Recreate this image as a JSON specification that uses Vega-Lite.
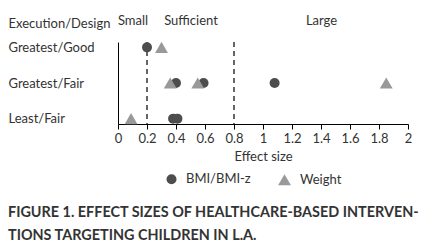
{
  "$schema": "https://vega.github.io/schema/vega-lite/v6.json",
  "width": 290,
  "height": 82,
  "autosize": "none",
  "padding": {"left": 118, "top": 42, "right": 18, "bottom": 121},
  "config": {
    "font": "Lato",
    "view": {"stroke": null},
    "axis": {
      "grid": false,
      "labelColor": "#333",
      "titleColor": "#333",
      "labelFont": "Lato",
      "titleFont": "Lato",
      "labelFontSize": 13,
      "titleFontSize": 13,
      "titleFontWeight": "normal",
      "domainColor": "#000",
      "tickColor": "#000"
    }
  },
  "title": {
    "text": ["FIGURE 1. EFFECT SIZES OF HEALTHCARE-BASED INTERVEN-", "TIONS TARGETING CHILDREN IN L.A."],
    "orient": "bottom",
    "anchor": "start",
    "frame": "bounds",
    "font": "Lato",
    "fontSize": 14.4,
    "fontWeight": "bold",
    "color": "#333",
    "lineHeight": 23,
    "offset": 19
  },
  "layer": [
    {
      "data": {"values": [{"threshold": 0.2}, {"threshold": 0.8}]},
      "mark": {"type": "rule", "strokeDash": [5, 4], "color": "#000", "strokeWidth": 1.2},
      "encoding": {
        "x": {
          "field": "threshold",
          "type": "quantitative",
          "scale": {"domain": [0, 2], "nice": false},
          "axis": {
            "orient": "top",
            "values": [0.1, 0.5, 1.4],
            "labelExpr": "datum.value < 0.3 ? 'Small' : datum.value < 1 ? 'Sufficient' : 'Large'",
            "domain": false,
            "ticks": false,
            "tickSize": 0,
            "labelPadding": 15,
            "labelFlush": false,
            "title": null
          }
        }
      }
    },
    {
      "data": {
        "values": [
          {"group": "Greatest/Good", "measure": "BMI/BMI-z", "effect": 0.2},
          {"group": "Greatest/Fair", "measure": "BMI/BMI-z", "effect": 0.4},
          {"group": "Greatest/Fair", "measure": "BMI/BMI-z", "effect": 0.59},
          {"group": "Greatest/Fair", "measure": "BMI/BMI-z", "effect": 1.08},
          {"group": "Least/Fair", "measure": "BMI/BMI-z", "effect": 0.38},
          {"group": "Least/Fair", "measure": "BMI/BMI-z", "effect": 0.41},
          {"group": "Greatest/Good", "measure": "Weight", "effect": 0.3},
          {"group": "Greatest/Fair", "measure": "Weight", "effect": 0.36},
          {"group": "Greatest/Fair", "measure": "Weight", "effect": 0.55},
          {"group": "Greatest/Fair", "measure": "Weight", "effect": 1.85},
          {"group": "Least/Fair", "measure": "Weight", "effect": 0.09}
        ]
      },
      "mark": {"type": "point", "filled": true, "opacity": 1},
      "encoding": {
        "x": {
          "field": "effect",
          "type": "quantitative",
          "scale": {"domain": [0, 2], "nice": false},
          "axis": {
            "values": [0, 0.2, 0.4, 0.6, 0.8, 1, 1.2, 1.4, 1.6, 1.8, 2],
            "format": "~g",
            "title": "Effect size",
            "tickSize": 5,
            "labelPadding": 3,
            "titlePadding": 5,
            "labelFlush": false
          }
        },
        "y": {
          "field": "group",
          "type": "nominal",
          "sort": ["Greatest/Good", "Greatest/Fair", "Least/Fair"],
          "scale": {"type": "point", "padding": 0.15},
          "axis": {
            "title": "Execution/Design",
            "titleAngle": 0,
            "titleAlign": "left",
            "titleBaseline": "alphabetic",
            "titleX": -110,
            "titleY": -15,
            "labelAlign": "left",
            "labelPadding": 110,
            "ticks": false,
            "tickSize": 0
          }
        },
        "shape": {
          "field": "measure",
          "type": "nominal",
          "scale": {"domain": ["BMI/BMI-z", "Weight"], "range": ["circle", "triangle-up"]},
          "legend": {
            "orient": "none",
            "legendX": 47,
            "legendY": 130,
            "direction": "horizontal",
            "title": null,
            "labelFont": "Lato",
            "labelFontSize": 13,
            "labelColor": "#333",
            "labelOffset": 8,
            "columnPadding": 26
          }
        },
        "color": {
          "field": "measure",
          "type": "nominal",
          "scale": {"domain": ["BMI/BMI-z", "Weight"], "range": ["#4d4d4d", "#999999"]}
        },
        "size": {
          "field": "measure",
          "type": "nominal",
          "scale": {"domain": ["BMI/BMI-z", "Weight"], "range": [100, 165]}
        }
      }
    }
  ],
  "resolve": {"axis": {"x": "independent"}}
}
